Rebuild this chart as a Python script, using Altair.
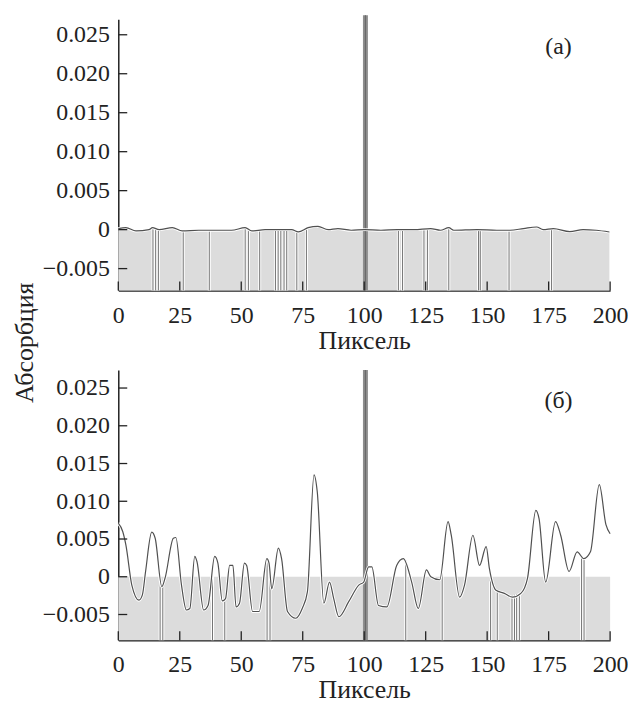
import altair as alt
import pandas as pd

# ---------------- data ----------------
# panel (а)
a_x = [0, 3.1, 7.2, 12.5, 13.9, 16.6, 22, 26, 32.7, 38, 46, 51.6, 54.3, 59.7, 66.4,
       70.5, 73.2, 77.2, 81.2, 85.3, 89.3, 94.7, 100.1, 106.8, 113.5, 120.3, 127,
       131, 134.4, 136.4, 145.9, 153.9, 159.3, 164.7, 170.1, 172.8, 176.9, 183.6,
       189, 194.3, 199.7]
a_y = [0.00013, 0.00025, -0.00017, 0.0, 0.00025, 0.0, 0.00025, -0.00017, -0.00008,
       -0.00008, -0.00008, 0.00025, -0.00017, 0.0, 0.0, 0.0, -0.0003, 0.00025,
       0.00042, 0.0, 0.00013, -0.00008, 0.0, -0.00008, 0.0, 0.0, 0.00013, -0.00008,
       0.00025, -0.00008, 0.0, -0.00008, -0.00008, 0.00013, 0.00034, 0.0, 0.00013,
       -0.00025, 0.0, -0.00008, -0.0003]
a_lines_x = [14.1, 15.2, 16.3, 26.4, 37.0, 51.6, 52.9, 57.5, 63.9, 65.0, 66.1, 67.4,
             68.5, 72.6, 76.5, 113.9, 115.6, 124.3, 125.7, 134.4, 146.5, 147.2,
             158.9, 176.2]
a_lines_top = [0.0001, 0.0, 0.0, -0.0002, -0.0001, 0.0002, 0.0, -0.0001, 0.0, 0.0,
               0.0, 0.0, 0.0, -0.0002, 0.0002, 0.0, 0.0, 0.0, 0.0, 0.0002, 0.0, 0.0,
               -0.0001, 0.0001]

# panel (б)
b_x = [0, 1.8, 3.1, 5.5, 8.4, 9.8, 11.1, 13.6, 15, 17.7, 19, 22.4, 23.4, 25.7, 27.7,
       29.1, 31.1, 32, 34.7, 36.5, 39.2, 40.5, 42.3, 43.6, 45.3, 46.6, 47.9, 49.3,
       51.3, 52.2, 54.6, 57.3, 60.4, 61.3, 62.4, 65.1, 66.4, 68.8, 72.2, 74.8, 76.9,
       79.6, 80.9, 83.6, 85.9, 87.6, 89.7, 93.7, 97.8, 99.8, 101.8, 103.1, 105.8,
       109.2, 113.2, 115.9, 119.3, 122, 125.3, 127.1, 130.7, 134.1, 135.4, 138.8,
       140.8, 144.2, 146.9, 149.6, 150.9, 153.6, 157, 160.3, 163.7, 166.4, 169.8,
       171.1, 173.8, 177.8, 179.9, 183.3, 186.6, 189.3, 192, 195.6, 198.3, 200]
b_y = [0.0071, 0.006, 0.0042, -0.0011, -0.0031, -0.0024, 0.0007, 0.0059, 0.0051,
       -0.0013, -0.0002, 0.0051, 0.0052, -0.0011, -0.0044, -0.0042, 0.0027, 0.002,
       -0.0044, -0.0038, 0.0027, 0.0018, -0.0032, -0.0029, 0.0015, 0.0015, -0.004,
       -0.0035, 0.0018, 0.0015, -0.0046, -0.0046, 0.0024, 0.0018, -0.0016, 0.0038,
       0.0024, -0.0046, -0.0055, -0.0042, -0.002, 0.0135, 0.0113, -0.0035, -0.0007,
       -0.0029, -0.0053, -0.0033, -0.0011, -0.0007, 0.0013, 0.0013, -0.0038, -0.004,
       0.0015, 0.0024, -0.0007, -0.0042, 0.0009, 0.0, -0.0004, 0.0073, 0.0055,
       -0.0027, -0.0011, 0.0055, 0.0015, 0.004, 0.0011, -0.0018, -0.0022, -0.0027,
       -0.0022, -0.0002, 0.0088, 0.0077, -0.0007, 0.0073, 0.0055, 0.0007, 0.0033,
       0.0024, 0.0033, 0.0122, 0.0069, 0.0057]
b_lines_x = [17.0, 18.1, 38.3, 43.3, 60.5, 61.7, 116.9, 131.7, 151.4, 154.1, 160.1,
             161.1, 162.0, 163.1, 188.4, 189.4]
b_lines_top = [-0.0013, -0.0013, 0.0013, -0.0033, 0.0022, 0.0012, 0.0022, 0.0013,
               -0.0006, -0.0018, -0.0025, -0.0024, -0.0023, -0.0022, 0.0026, 0.0026]

spike_x = [100.5]
x_ticks = [0, 25, 50, 75, 100, 125, 150, 175, 200]
y_ticks = [-0.005, 0, 0.005, 0.010, 0.015, 0.020, 0.025]
x_range = [0, 200]
a_domain = [-0.0078, 0.027]
b_domain = [-0.0084, 0.0274]
labels = ["(а)", "(б)"]
label_pos = [(179, 0.0234), (179, 0.0233)]

FONT = "Liberation Serif, Times New Roman, DejaVu Serif, serif"
W = 495
TXT = "#222222"


def panel(cx, cy, lx, ltop, dom, H, label, lpos, full_band, spike_top_px):
    xs = alt.Scale(domain=x_range, nice=False, zero=False)
    ys = alt.Scale(domain=dom, nice=False, zero=False)
    x_axis = alt.Axis(values=x_ticks, format="d", labelPadding=13, labelFlush=False,
                      title="Пиксель", titlePadding=0)
    y_axis = alt.Axis(values=y_ticks, labelPadding=9, title=None, labelFlush=False,
                      labelExpr="datum.value == 0 ? '0' : format(datum.value, '.3f')")

    curve = pd.DataFrame({"x": cx, "y": cy, "ymin": dom[0]})
    lines = pd.DataFrame({"x": lx, "top": ltop, "ymin": dom[0]})

    if full_band:
        band_df = pd.DataFrame({"x": [x_range[0]], "x2": [x_range[1]],
                                "y": [dom[0]], "y2": [0.0]})
        band = alt.Chart(band_df).mark_rect(color="#dcdcdc").encode(
            x=alt.X("x:Q", scale=xs, axis=x_axis),
            x2="x2:Q",
            y=alt.Y("y:Q", scale=ys, axis=y_axis),
            y2="y2:Q",
        )
    else:
        band = alt.Chart(curve).mark_area(color="#dcdcdc", interpolate="linear").encode(
            x=alt.X("x:Q", scale=xs, axis=x_axis),
            y=alt.Y("y:Q", scale=ys, axis=y_axis),
            y2="ymin:Q",
        )

    halo = alt.Chart(lines).mark_rule(color="white", strokeWidth=3).encode(
        x=alt.X("x:Q", scale=xs, axis=x_axis),
        y=alt.Y("ymin:Q", scale=ys, axis=y_axis),
        y2="top:Q",
    )
    vl = alt.Chart(lines).mark_rule(color="#707070", strokeWidth=1).encode(
        x=alt.X("x:Q", scale=xs, axis=x_axis),
        y=alt.Y("ymin:Q", scale=ys, axis=y_axis),
        y2="top:Q",
    )
    spike_df = pd.DataFrame({"x": spike_x, "ymin": dom[0]})
    spike = alt.Chart(spike_df).mark_rule(color="#8e8e8e", strokeWidth=5).encode(
        x=alt.X("x:Q", scale=xs, axis=x_axis),
        y=alt.Y("ymin:Q", scale=ys, axis=y_axis),
        y2=alt.value(spike_top_px),
    )
    spike_core = alt.Chart(spike_df).mark_rule(color="#6a6a6a", strokeWidth=1.2).encode(
        x=alt.X("x:Q", scale=xs, axis=x_axis),
        y=alt.Y("ymin:Q", scale=ys, axis=y_axis),
        y2=alt.value(spike_top_px),
    )
    c_halo = alt.Chart(curve).mark_line(color="white", strokeWidth=3,
                                        interpolate="monotone").encode(
        x=alt.X("x:Q", scale=xs, axis=x_axis),
        y=alt.Y("y:Q", scale=ys, axis=y_axis),
    )
    c_line = alt.Chart(curve).mark_line(color="#505050", strokeWidth=1.2,
                                        interpolate="monotone").encode(
        x=alt.X("x:Q", scale=xs, axis=x_axis),
        y=alt.Y("y:Q", scale=ys, axis=y_axis),
    )
    xt_df = pd.DataFrame({"x": x_ticks, "ymin": dom[0]})
    xt = alt.Chart(xt_df).mark_rule(color=TXT, strokeWidth=1.3).encode(
        x=alt.X("x:Q", scale=xs, axis=x_axis),
        y=alt.Y("ymin:Q", scale=ys, axis=y_axis),
        y2=alt.value(H - 9),
    )
    yt_df = pd.DataFrame({"y": y_ticks, "x0": x_range[0]})
    yt = alt.Chart(yt_df).mark_rule(color=TXT, strokeWidth=1.3).encode(
        x=alt.X("x0:Q", scale=xs, axis=x_axis),
        x2=alt.value(9),
        y=alt.Y("y:Q", scale=ys, axis=y_axis),
    )
    lab_df = pd.DataFrame({"x": [lpos[0]], "y": [lpos[1]], "t": [label]})
    lab = alt.Chart(lab_df).mark_text(font=FONT, fontSize=24, color=TXT).encode(
        x=alt.X("x:Q", scale=xs, axis=x_axis),
        y=alt.Y("y:Q", scale=ys, axis=y_axis),
        text="t:N",
    )
    return alt.layer(band, halo, vl, spike, spike_core, c_halo, c_line, xt, yt, lab
                     ).properties(width=W, height=H)


top = panel(a_x, a_y, a_lines_x, a_lines_top, a_domain, 273, labels[0], label_pos[0],
            False, -4)
bottom = panel(b_x, b_y, b_lines_x, b_lines_top, b_domain, 272, labels[1], label_pos[1],
               True, 0)

chart = alt.vconcat(top, bottom, spacing=14).properties(
    title=alt.TitleParams("Абсорбция", orient="left", anchor="middle", font=FONT,
                          fontSize=26, fontWeight="normal", color=TXT, offset=4,
                          dx=15),
    padding={"top": 2, "left": 4, "right": 0, "bottom": 0},
).configure_view(stroke=None).configure_axis(
    domainColor=TXT, domainWidth=1.5, ticks=False, grid=False,
    labelFont=FONT, labelFontSize=24, labelColor=TXT,
    titleFont=FONT, titleFontSize=26, titleFontWeight="normal", titleColor=TXT,
)

chart.save("out.html", embed_options={"renderer": "svg", "actions": False})
